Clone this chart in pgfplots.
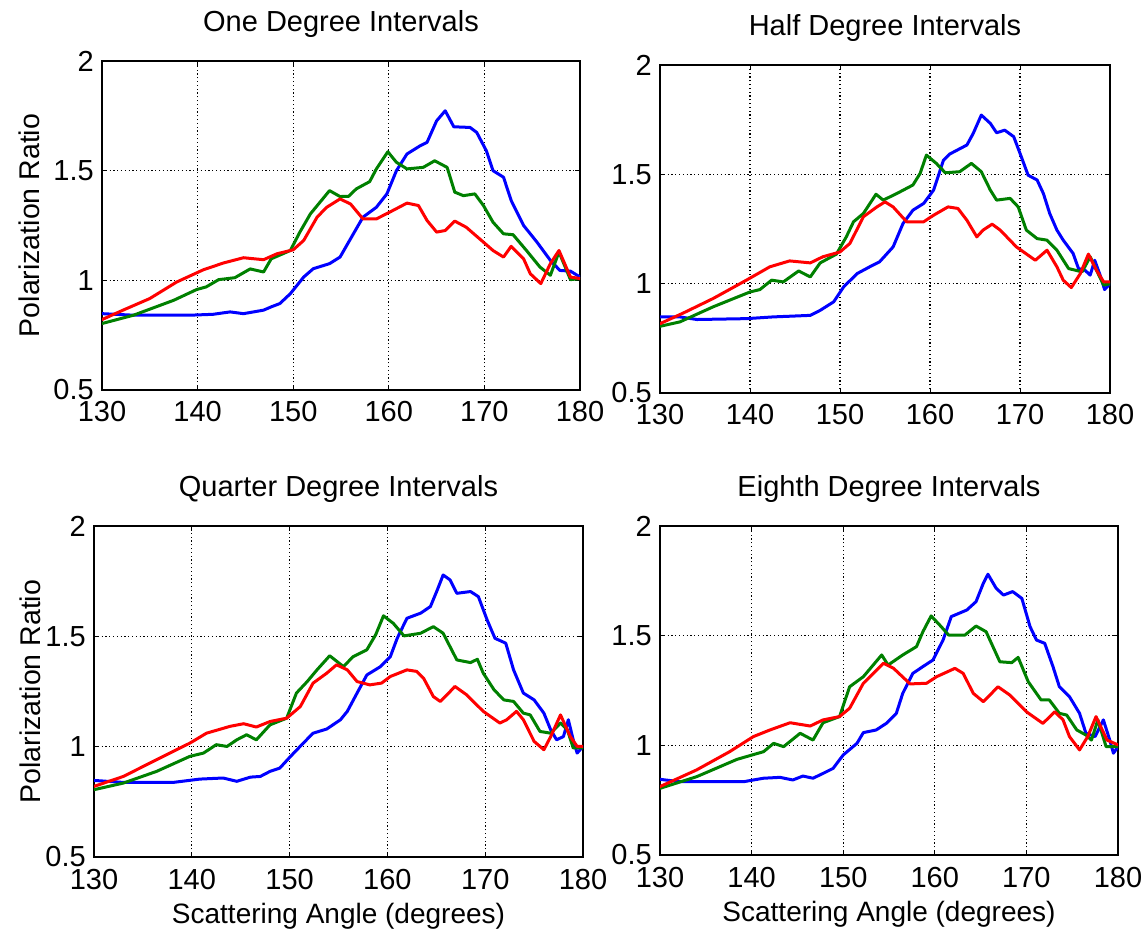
\documentclass[border=0pt]{standalone}
\usepackage{fontspec}
\setmainfont{Liberation Sans}
\usepackage{pgfplots}
\pgfplotsset{compat=1.18}
\definecolor{mblue}{rgb}{0,0,1}
\definecolor{mgreen}{rgb}{0,0.5,0}
\definecolor{mred}{rgb}{1,0,0}
\pgfplotsset{
  mstyle/.style={
    scale only axis,
    anchor=south west,
    xmin=130,xmax=180,ymin=0.5,ymax=2,
    xtick={130,140,150,160,170,180},
    ytick={0.5,1,1.5,2},
    grid=major,
    major grid style={black, line width=1.2pt, dash pattern=on 1.2pt off 2.6pt},
    axis line style={black, line width=1.3pt},
    tick style={black, line width=1pt},
    tick align=inside,
    major tick length=5pt,
    /pgf/number format/assume math mode=true,
    ticklabel style={font=\fontsize{29}{32}\selectfont, inner sep=0pt},
    xticklabel style={anchor=base, yshift=-32pt},
    yticklabel style={anchor=east, xshift=-8pt},
    title style={font=\fontsize{29}{32}\selectfont, at={(0.5,1)}, anchor=base, yshift=23pt},
    xlabel style={font=\fontsize{28}{31}\selectfont, at={(0.5,0)}, anchor=base, yshift=-66pt},
    ylabel style={font=\fontsize{28.5}{31}\selectfont, anchor=base},
    every axis plot/.append style={line width=3pt, line join=round, line cap=round},
  }
}
\begin{document}
\begin{tikzpicture}
\useasboundingbox (0,0) rectangle (1147pt,928pt);
% ---------------- One Degree ----------------
\begin{axis}[mstyle, at={(102pt,538pt)}, width=478pt, height=329pt,
  title={One Degree Intervals}, ylabel={Polarization Ratio},
  ylabel style={at={(axis description cs:-0.13,0.5)}}]
\addplot[mblue] coordinates {(130,0.848)(133.3,0.841)(139.2,0.841)(141.6,0.845)(143.4,0.856)(144.8,0.848)(146.9,0.864)(147.7,0.879)(148.6,0.894)(149.7,0.939)(151.1,1.015)(152.1,1.053)(153.8,1.076)(154.9,1.106)(155.9,1.182)(157.3,1.288)(158.7,1.333)(159.8,1.394)(160.8,1.5)(161.9,1.576)(163.3,1.614)(164.0,1.629)(165.0,1.727)(165.9,1.773)(166.8,1.7)(168.5,1.697)(169.2,1.674)(170.2,1.591)(170.9,1.5)(172.0,1.47)(172.8,1.364)(174.1,1.25)(175.5,1.174)(176.9,1.091)(177.9,1.045)(179.0,1.042)(180,1.015)};
\addplot[mgreen] coordinates {(130,0.803)(133.3,0.841)(137.5,0.909)(139.9,0.958)(140.9,0.97)(142.2,1.003)(143.9,1.012)(145.5,1.052)(146.9,1.038)(147.7,1.098)(149.7,1.136)(150.7,1.22)(151.8,1.303)(152.8,1.356)(153.8,1.409)(154.9,1.382)(155.8,1.383)(156.6,1.417)(158.0,1.45)(158.7,1.508)(159.9,1.586)(160.8,1.538)(161.9,1.508)(163.6,1.515)(164.8,1.545)(166.1,1.515)(166.9,1.402)(167.8,1.386)(169.0,1.394)(169.9,1.341)(170.9,1.265)(172.0,1.212)(173.0,1.208)(174.4,1.136)(175.8,1.061)(176.9,1.023)(177.8,1.129)(179.0,1.003)(180,1.008)};
\addplot[mred] coordinates {(130,0.821)(132.2,0.864)(135.0,0.917)(137.8,0.992)(140.6,1.048)(142.7,1.079)(144.8,1.103)(146.9,1.094)(148.3,1.121)(150.0,1.139)(151.1,1.182)(152.5,1.288)(153.5,1.333)(154.9,1.371)(156.0,1.348)(157.3,1.28)(158.7,1.28)(160.1,1.311)(161.9,1.352)(163.1,1.341)(164.0,1.273)(165.0,1.22)(165.9,1.227)(166.9,1.27)(168.1,1.242)(169.9,1.174)(170.9,1.136)(172.0,1.106)(172.8,1.155)(174.1,1.098)(174.8,1.03)(175.9,0.985)(176.9,1.076)(177.8,1.136)(179.0,1.015)(180,1.008)};
\end{axis}
% ---------------- Half Degree ----------------
\begin{axis}[mstyle, at={(660pt,535pt)}, width=450pt, height=328pt,
  title={Half Degree Intervals}]
\addplot[mblue] coordinates {(130,0.848)(132.2,0.848)(134.1,0.836)(139.6,0.840)(142.6,0.848)(144.4,0.851)(146.7,0.855)(147.8,0.878)(149.3,0.917)(150.4,0.985)(151.9,1.046)(153.3,1.077)(154.4,1.100)(155.9,1.168)(157.0,1.275)(158.1,1.336)(159.3,1.367)(160.4,1.428)(161.5,1.565)(162.2,1.593)(164.1,1.634)(164.8,1.687)(165.7,1.771)(166.7,1.733)(167.4,1.690)(168.3,1.702)(169.3,1.672)(170.0,1.596)(170.9,1.496)(171.9,1.474)(172.6,1.412)(173.3,1.321)(174.1,1.245)(174.8,1.199)(175.9,1.138)(176.5,1.069)(177.2,1.062)(177.8,1.039)(178.3,1.107)(178.9,1.039)(179.4,0.973)(180,1.000)};
\addplot[mgreen] coordinates {(130,0.805)(132.2,0.825)(135.9,0.894)(140.0,0.962)(141.1,0.973)(142.4,1.016)(143.7,1.008)(145.4,1.058)(146.7,1.031)(147.8,1.095)(149.6,1.135)(150.7,1.214)(151.5,1.283)(152.6,1.321)(154.0,1.409)(154.8,1.382)(156.3,1.412)(158.1,1.451)(158.9,1.504)(159.6,1.588)(160.7,1.550)(161.7,1.507)(163.3,1.512)(164.6,1.550)(165.7,1.512)(166.7,1.428)(167.4,1.382)(168.9,1.390)(169.8,1.351)(170.7,1.245)(171.9,1.206)(173.0,1.199)(174.1,1.153)(175.4,1.069)(176.9,1.054)(177.8,1.123)(178.5,1.061)(179.3,0.993)(180,1.000)};
\addplot[mred] coordinates {(130,0.817)(132.6,0.866)(135.9,0.932)(139.6,1.016)(142.2,1.077)(144.4,1.104)(146.7,1.095)(148.1,1.123)(150.0,1.145)(151.1,1.184)(152.6,1.306)(154.1,1.351)(155.0,1.374)(155.9,1.351)(157.4,1.283)(159.3,1.283)(160.4,1.313)(162.0,1.351)(163.1,1.344)(164.1,1.290)(165.2,1.214)(165.9,1.245)(166.9,1.272)(167.8,1.245)(169.6,1.168)(171.7,1.107)(173.0,1.153)(174.1,1.077)(174.8,1.016)(175.7,0.982)(176.7,1.046)(177.6,1.135)(178.5,1.061)(179.3,1.008)(180,1.008)};
\end{axis}
% ---------------- Quarter Degree ----------------
\begin{axis}[mstyle, at={(94pt,71pt)}, width=489pt, height=331pt,
  title={Quarter Degree Intervals}, ylabel={Polarization Ratio},
  xlabel={Scattering Angle (degrees)},
  ylabel style={at={(axis description cs:-0.11,0.5)}}]
\addplot[mblue] coordinates {(130,0.847)(133.0,0.838)(138.1,0.838)(140.8,0.853)(143.2,0.858)(144.6,0.843)(146.0,0.862)(147.0,0.865)(148.0,0.888)(149.0,0.903)(150.1,0.956)(151.4,1.016)(152.4,1.061)(153.8,1.080)(155.2,1.122)(155.9,1.160)(156.9,1.243)(157.9,1.325)(159.3,1.363)(160.3,1.408)(161.0,1.491)(162.0,1.582)(163.4,1.605)(164.4,1.635)(165.1,1.710)(165.7,1.778)(166.4,1.756)(167.1,1.695)(168.5,1.703)(169.3,1.680)(170.2,1.574)(171.0,1.491)(172.1,1.469)(172.9,1.348)(173.9,1.243)(175.0,1.212)(176.0,1.152)(176.7,1.076)(177.3,1.031)(178.0,1.046)(178.5,1.122)(179.0,1.031)(179.4,0.971)(180,1.001)};
\addplot[mgreen] coordinates {(130,0.805)(133.0,0.835)(136.4,0.888)(139.8,0.956)(141.2,0.971)(142.5,1.009)(143.6,1.001)(144.6,1.031)(145.6,1.054)(146.6,1.031)(148.0,1.099)(149.7,1.129)(150.7,1.243)(151.8,1.295)(152.8,1.348)(154.1,1.412)(155.5,1.363)(156.5,1.408)(157.9,1.439)(158.8,1.507)(159.6,1.593)(160.6,1.559)(161.7,1.502)(163.4,1.514)(164.7,1.544)(165.7,1.514)(167.1,1.393)(168.5,1.381)(169.2,1.396)(169.8,1.333)(170.9,1.258)(171.9,1.212)(172.9,1.205)(173.9,1.152)(174.6,1.144)(175.6,1.069)(176.7,1.061)(177.7,1.107)(178.4,1.076)(179.0,0.994)(180,0.994)};
\addplot[mred] coordinates {(130,0.820)(133.0,0.865)(136.4,0.941)(139.8,1.016)(141.5,1.061)(143.9,1.092)(145.3,1.104)(146.6,1.089)(148.0,1.114)(149.7,1.129)(151.1,1.182)(152.4,1.288)(153.8,1.333)(154.8,1.371)(155.9,1.348)(156.9,1.295)(158.2,1.280)(159.4,1.288)(160.3,1.318)(162.0,1.348)(163.0,1.341)(163.7,1.310)(164.7,1.227)(165.4,1.205)(166.1,1.235)(166.9,1.273)(168.1,1.235)(169.8,1.160)(171.5,1.107)(172.2,1.122)(173.2,1.160)(173.9,1.122)(175.0,1.024)(176.0,0.986)(176.7,1.046)(177.7,1.144)(178.7,1.046)(179.4,1.001)(180,1.001)};
\end{axis}
% ---------------- Eighth Degree ----------------
\begin{axis}[mstyle, at={(660pt,73pt)}, width=458pt, height=329pt,
  title={Eighth Degree Intervals}, xlabel={Scattering Angle (degrees)}]
\addplot[mblue] coordinates {(130,0.845)(132.2,0.834)(139.1,0.834)(141.3,0.850)(143.1,0.854)(144.5,0.842)(145.6,0.860)(146.7,0.850)(147.8,0.872)(148.9,0.895)(150.0,0.956)(151.5,1.009)(152.2,1.058)(153.6,1.070)(154.7,1.100)(155.8,1.146)(156.5,1.237)(157.6,1.328)(158.7,1.359)(159.8,1.389)(160.9,1.480)(161.8,1.587)(163.5,1.617)(164.5,1.655)(165.3,1.739)(165.8,1.780)(166.7,1.716)(167.5,1.685)(168.5,1.701)(169.5,1.670)(170.4,1.541)(171.1,1.480)(172.0,1.465)(172.9,1.359)(173.6,1.267)(174.7,1.222)(175.8,1.146)(176.5,1.055)(177.5,1.040)(178.4,1.116)(179.1,1.024)(179.5,0.964)(180,0.994)};
\addplot[mgreen] coordinates {(130,0.804)(134.0,0.857)(138.4,0.936)(141.3,0.971)(142.4,1.009)(143.5,0.994)(145.3,1.055)(146.7,1.024)(147.8,1.103)(149.6,1.131)(150.7,1.267)(152.2,1.313)(154.2,1.412)(154.9,1.366)(156.5,1.412)(158.0,1.450)(158.7,1.518)(159.6,1.590)(160.7,1.541)(161.5,1.503)(163.3,1.503)(164.5,1.544)(165.6,1.518)(167.1,1.381)(168.4,1.377)(169.1,1.401)(170.2,1.290)(171.6,1.207)(172.5,1.207)(173.6,1.146)(174.4,1.138)(175.5,1.070)(176.5,1.047)(177.1,1.024)(177.8,1.116)(178.7,0.994)(180,0.994)};
\addplot[mred] coordinates {(130,0.812)(134.0,0.888)(137.6,0.971)(140.2,1.040)(142.0,1.070)(144.2,1.103)(146.4,1.088)(147.8,1.116)(149.6,1.131)(150.7,1.169)(152.2,1.283)(154.4,1.374)(155.5,1.351)(157.3,1.280)(159.1,1.283)(160.2,1.313)(162.2,1.351)(163.1,1.328)(164.2,1.237)(165.3,1.199)(166.9,1.267)(168.2,1.229)(170.0,1.153)(171.8,1.100)(173.1,1.153)(174.0,1.116)(174.7,1.040)(175.8,0.979)(176.7,1.040)(177.6,1.131)(178.8,1.024)(180,1.002)};
\end{axis}
\end{tikzpicture}
\end{document}
